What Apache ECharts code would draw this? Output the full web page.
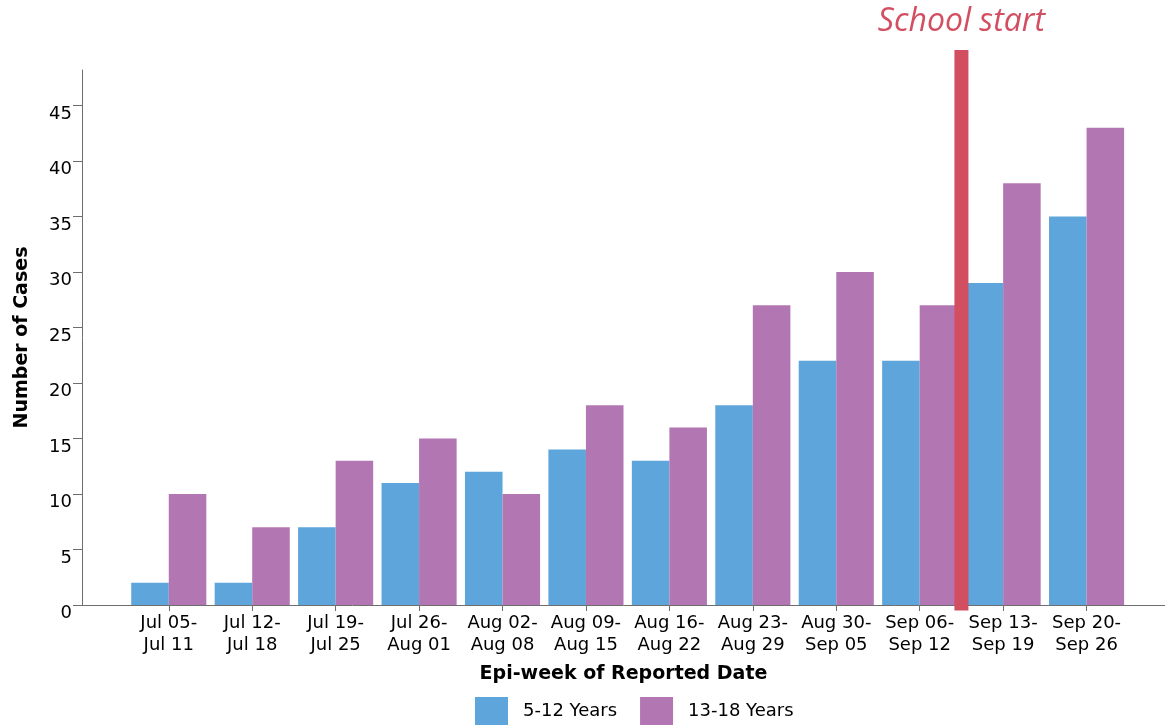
<!DOCTYPE html>
<html lang="en">
<head>
    <meta charset="utf-8">
    <title>Epi-week cases by age group</title>
    <script src="https://cdn.jsdelivr.net/npm/echarts@6/dist/echarts.min.js"></script>
    <style>
        html, body {
            margin: 0;
            padding: 0;
            background: #fff;
        }
    </style>
</head>
<body>
<div id="chart" style="width: 1165px; height: 725px;"></div>

<script>
    // data
    var weeks = ['Jul 05-\nJul 11', 'Jul 12-\nJul 18', 'Jul 19-\nJul 25', 'Jul 26-\nAug 01',
        'Aug 02-\nAug 08', 'Aug 09-\nAug 15', 'Aug 16-\nAug 22', 'Aug 23-\nAug 29',
        'Aug 30-\nSep 05', 'Sep 06-\nSep 12', 'Sep 13-\nSep 19', 'Sep 20-\nSep 26'];
    var kids = [2, 2, 7, 11, 12, 14, 13, 18, 22, 22, 29, 35];
    var teens = [10, 7, 13, 15, 10, 18, 16, 27, 30, 27, 38, 43];
    var yTicks = [0, 5, 10, 15, 20, 25, 30, 35, 40, 45];
    var schoolStart = 9.5; // between Sep 06 and Sep 13 weeks

    var labelFont = '"DejaVu Sans", sans-serif';
    var axisGray = '#6e6e6e';

    function pairs(arr) {
        return arr.map(function (v, i) { return [i, v]; });
    }

    var weekIdx = weeks.map(function (w, i) { return i; });

    var myChart = echarts.init(document.getElementById('chart'));

    var option = {
        animation: false,
        textStyle: { fontFamily: labelFont },
        grid: {
            left: 82,
            right: 0,
            top: 70,
            bottom: 120
        },
        legend: {
            left: 475,
            top: 697,
            padding: 0,
            itemWidth: 33,
            itemHeight: 28,
            itemGap: 23,
            icon: 'rect',
            textStyle: { fontSize: 18, color: '#000', fontFamily: labelFont, padding: [6, 0, 0, 10] },
            data: ['5-12 Years', '13-18 Years']
        },
        xAxis: {
            type: 'value',
            min: -1.04,
            max: 11.94,
            name: 'Epi-week of Reported Date',
            nameLocation: 'middle',
            nameGap: 60,
            nameTextStyle: { fontSize: 19, fontWeight: 'bold', color: '#000', fontFamily: labelFont },
            splitLine: { show: false },
            axisLine: { show: true, onZero: false, lineStyle: { color: axisGray, width: 1 } },
            axisTick: {
                show: true,
                length: 6,
                customValues: weekIdx,
                lineStyle: { color: axisGray }
            },
            axisLabel: {
                customValues: weekIdx,
                formatter: function (v) { return weeks[v] || ''; },
                fontSize: 18,
                lineHeight: 22,
                color: '#000',
                margin: 7
            }
        },
        yAxis: {
            type: 'value',
            min: 0,
            max: 48.2,
            name: 'Number of Cases',
            nameLocation: 'middle',
            nameGap: 50,
            nameTextStyle: { fontSize: 19, fontWeight: 'bold', color: '#000', fontFamily: labelFont },
            splitLine: { show: false },
            axisLine: { show: true, onZero: false, lineStyle: { color: axisGray, width: 1 } },
            axisTick: {
                show: true,
                length: 9,
                customValues: yTicks,
                lineStyle: { color: axisGray }
            },
            axisLabel: {
                customValues: yTicks,
                fontSize: 18,
                lineHeight: 17,
                verticalAlign: 'top',
                color: '#000',
                margin: 10
            }
        },
        series: [
            {
                name: '5-12 Years',
                type: 'bar',
                barGap: '0%',
                barCategoryGap: '10%',
                itemStyle: { color: '#5da5da' },
                data: pairs(kids)
            },
            {
                name: '13-18 Years',
                type: 'bar',
                barGap: '0%',
                barCategoryGap: '10%',
                itemStyle: { color: '#b276b2' },
                data: pairs(teens)
            },
            {
                // school start marker drawn through the axes
                type: 'custom',
                silent: true,
                z: 5,
                data: [[schoolStart]],
                renderItem: function (params, api) {
                    var top = api.coord([api.value(0), 50]);
                    var bottom = api.coord([api.value(0), -0.5]);
                    return {
                        type: 'group',
                        children: [
                            {
                                type: 'rect',
                                shape: { x: top[0] - 7, y: top[1], width: 14, height: bottom[1] - top[1] },
                                style: { fill: '#d24e61' }
                            },
                            {
                                type: 'text',
                                style: {
                                    x: top[0],
                                    y: top[1] - 28,
                                    text: 'School start',
                                    fill: '#d24e61',
                                    font: 'italic 32px "Open Sans"',
                                    align: 'center',
                                    verticalAlign: 'middle'
                                }
                            }
                        ]
                    };
                }
            }
        ]
    };

    myChart.setOption(option);
</script>
</body>
</html>
